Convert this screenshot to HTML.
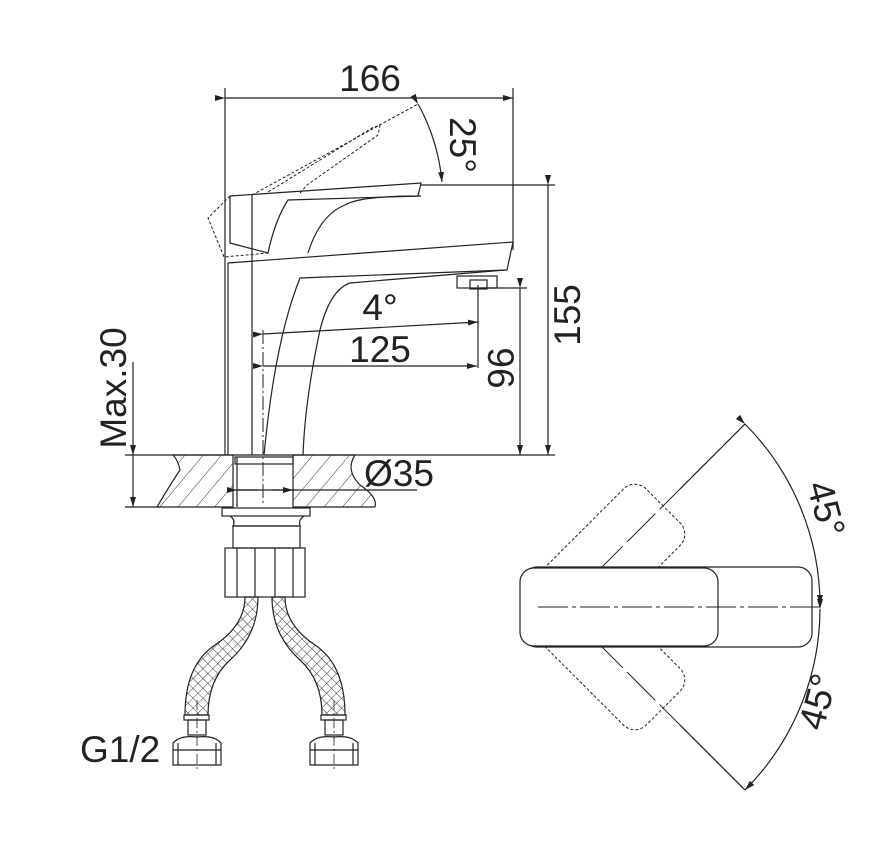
<!DOCTYPE html>
<html><head><meta charset="utf-8"><style>
html,body{margin:0;padding:0;background:#fff}
svg{display:block}
text{font-family:"Liberation Sans",sans-serif;fill:#222}
</style></head><body>
<svg width="887" height="847" viewBox="0 0 887 847" xmlns="http://www.w3.org/2000/svg">
<defs>
<pattern id="hat" width="14" height="14" patternUnits="userSpaceOnUse" patternTransform="rotate(40)">
<line x1="0" y1="0" x2="0" y2="14" stroke="#333" stroke-width="1"/>
</pattern>
<pattern id="mesh" width="7" height="7" patternUnits="userSpaceOnUse" patternTransform="rotate(45)">
<path d="M0 0H7M0 0V7" stroke="#333" stroke-width="0.9" fill="none"/>
</pattern>
<marker id="ar" markerWidth="10" markerHeight="6" refX="10" refY="3" orient="auto" markerUnits="userSpaceOnUse"><path d="M0 0L10 3L0 6Z" fill="#222"/></marker>
</defs>
<g fill="none" stroke="#222" stroke-width="1.2">
<line x1="225" y1="98" x2="513" y2="98" marker-start="url(#ar)" marker-end="url(#ar)"/>
<line x1="225" y1="88" x2="225" y2="455"/>
<line x1="513" y1="88" x2="513" y2="250"/>
<line x1="420" y1="185" x2="555" y2="185"/>
<line x1="548" y1="185" x2="548" y2="455" marker-start="url(#ar)" marker-end="url(#ar)"/>
<line x1="480" y1="288" x2="527" y2="288"/>
<line x1="520" y1="288" x2="520" y2="455" marker-start="url(#ar)" marker-end="url(#ar)"/>
<line x1="125" y1="455" x2="555" y2="455"/>
<path d="M230 196 L421 183 L418 196 Q360 196 345 205 Q320 215 308 253"/>
<path d="M230 196 V243 L268 253 Q275 220 288 200 L421 196"/>
<line x1="252" y1="195" x2="252" y2="455"/>
<path d="M228 263 L513 242 L507 270 L455 272 L300 278 Q275 340 264 455"/>
<line x1="228" y1="263" x2="228" y2="455"/>
<path d="M505 270 L350 283 Q330 290 320 330 Q305 400 303 455"/>
<rect x="457" y="276" width="40" height="12"/>
<rect x="470" y="280" width="17" height="9"/>
<g stroke-dasharray="3 2" stroke-width="1">
<path d="M252 195 L418 104"/>
<path d="M230 196 L208 218 L224 257 L268 253"/>
<path d="M300 193 L307 185 L378 135 L380 125 L372 128 L268 192"/>
</g>
<path d="M418 104 Q438 140 442 182" marker-start="url(#ar)" marker-end="url(#ar)"/>
<line x1="263" y1="330" x2="263" y2="505" stroke-dasharray="14 3 2 3" stroke-width="1"/>
<line x1="263" y1="334" x2="478" y2="322" marker-start="url(#ar)" marker-end="url(#ar)"/>
<line x1="478" y1="285" x2="478" y2="368"/>
<line x1="263" y1="366" x2="477" y2="366" marker-start="url(#ar)" marker-end="url(#ar)"/>
<line x1="133" y1="362" x2="133" y2="455"/>
<line x1="133" y1="455" x2="133" y2="507" marker-start="url(#ar)" marker-end="url(#ar)"/>
<line x1="125" y1="507" x2="160" y2="507"/>
<path d="M173 455 H233 V507 H157 Q170 485 180 470 Q178 460 173 455Z" fill="url(#hat)"/>
<path d="M293 455 H355 Q345 470 360 485 Q378 497 375 507 H293Z" fill="url(#hat)"/>
<rect x="235" y="457" width="58" height="7"/>
<line x1="237" y1="457" x2="237" y2="507"/>
<line x1="235" y1="490" x2="417" y2="490"/>
<line x1="237" y1="490" x2="258" y2="490" marker-start="url(#ar)"/>
<line x1="272" y1="490" x2="293" y2="490" marker-end="url(#ar)"/>
<rect x="222" y="508" width="88" height="8"/>
<path d="M230 516 Q236 520 233 526 H300 Q298 520 304 516"/>
<rect x="233" y="526" width="67" height="22"/>
<rect x="225" y="548" width="80" height="49"/>
<line x1="237" y1="548" x2="237" y2="597"/><line x1="255" y1="548" x2="255" y2="597"/>
<line x1="275" y1="548" x2="275" y2="597"/><line x1="293" y1="548" x2="293" y2="597"/>
<path d="M245 597 Q245 625 215 645 Q185 665 185 715 H208 Q208 680 230 660 Q258 635 258 597Z" fill="url(#mesh)"/>
<path d="M272 597 Q272 635 300 660 Q322 680 322 715 H345 Q345 665 315 645 Q285 625 285 597Z" fill="url(#mesh)"/>
<rect x="184" y="715" width="25" height="5"/><rect x="188" y="720" width="18" height="15"/>
<rect x="321" y="715" width="25" height="5"/><rect x="325" y="720" width="18" height="15"/>
<path d="M173 743 Q180 735 197 737 Q214 735 221 743 V765 H173Z"/>
<line x1="173" y1="750" x2="221" y2="750"/><line x1="178" y1="743" x2="178" y2="765"/><line x1="216" y1="743" x2="216" y2="765"/>
<path d="M310 743 Q317 735 334 737 Q351 735 358 743 V765 H310Z"/>
<line x1="310" y1="750" x2="358" y2="750"/><line x1="315" y1="743" x2="315" y2="765"/><line x1="353" y1="743" x2="353" y2="765"/>
<line x1="197" y1="700" x2="197" y2="772" stroke-dasharray="10 3 2 3" stroke-width="0.8"/>
<line x1="334" y1="700" x2="334" y2="772" stroke-dasharray="10 3 2 3" stroke-width="0.8"/>
<!-- top view -->
<g stroke-dasharray="3 2" stroke-width="1">
<rect x="540" y="567" width="165" height="80" rx="16" transform="rotate(-45 562 607)"/>
<rect x="540" y="567" width="165" height="80" rx="16" transform="rotate(45 562 607)"/>
</g>
<line x1="562" y1="607" x2="745" y2="424" stroke-dasharray="40 6" stroke-width="1"/>
<line x1="562" y1="607" x2="745" y2="790" stroke-dasharray="40 6" stroke-width="1"/>
<rect x="523" y="567" width="289" height="80" rx="14" fill="#fff"/>
<rect x="520" y="568" width="198" height="78" rx="14" fill="#fff"/>
<line x1="538" y1="607" x2="820" y2="607" stroke-dasharray="30 4 4 4" stroke-width="1"/>
<line x1="680" y1="489" x2="745" y2="424"/>
<line x1="680" y1="725" x2="745" y2="790"/>
<path d="M745 424 A258 258 0 0 1 820 605" marker-start="url(#ar)" marker-end="url(#ar)"/>
<path d="M820 609 A258 258 0 0 1 745 790" marker-start="url(#ar)" marker-end="url(#ar)"/>
</g>
<g font-size="37">
<text x="370" y="91" text-anchor="middle">166</text>
<text x="380" y="320" text-anchor="middle">4°</text>
<text x="380" y="362" text-anchor="middle">125</text>
<text x="364" y="486">Ø35</text>
<text x="80" y="762">G1/2</text>
<text transform="translate(450,145) rotate(90)" text-anchor="middle">25°</text>
<text transform="translate(488,368) rotate(90)" text-anchor="middle">96</text>
<text transform="translate(580,315) rotate(-90)" text-anchor="middle">155</text>
<text transform="translate(126,388) rotate(-90)" text-anchor="middle">Max.30</text>
<text transform="translate(814,512) rotate(75)" text-anchor="middle">45°</text>
<text transform="translate(830,705) rotate(-75)" text-anchor="middle">45°</text>
</g>
</svg>
</body></html>
